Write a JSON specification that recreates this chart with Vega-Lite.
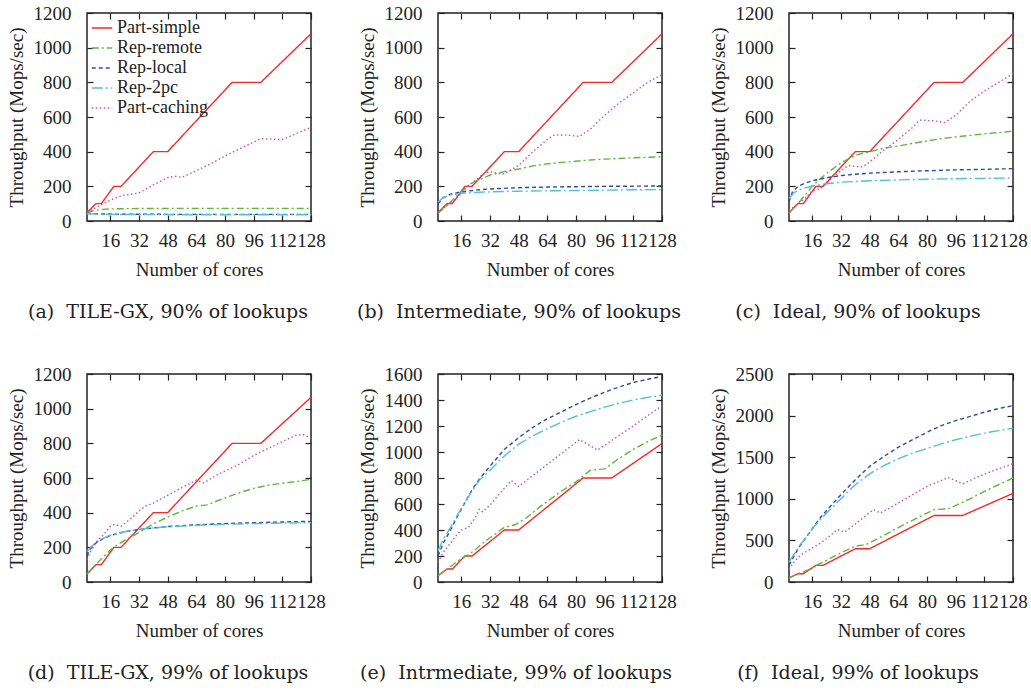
{
"$schema":"https://vega.github.io/schema/vega-lite/v6.json",
"background":"white",
"padding":{"left":6,"top":3,"right":5,"bottom":5},
"datasets":{"d":[
{"p":"a","s":"Part-simple","x":3,"y":48},{"p":"a","s":"Part-simple","x":8,"y":100},{"p":"a","s":"Part-simple","x":11,"y":100},{"p":"a","s":"Part-simple","x":18,"y":200},{"p":"a","s":"Part-simple","x":22,"y":200},{"p":"a","s":"Part-simple","x":40,"y":400},{"p":"a","s":"Part-simple","x":48,"y":400},{"p":"a","s":"Part-simple","x":84,"y":800},{"p":"a","s":"Part-simple","x":100,"y":800},{"p":"a","s":"Part-simple","x":128,"y":1080},
{"p":"b","s":"Part-simple","x":3,"y":48},{"p":"b","s":"Part-simple","x":8,"y":100},{"p":"b","s":"Part-simple","x":11,"y":100},{"p":"b","s":"Part-simple","x":18,"y":200},{"p":"b","s":"Part-simple","x":22,"y":200},{"p":"b","s":"Part-simple","x":40,"y":400},{"p":"b","s":"Part-simple","x":48,"y":400},{"p":"b","s":"Part-simple","x":84,"y":800},{"p":"b","s":"Part-simple","x":100,"y":800},{"p":"b","s":"Part-simple","x":128,"y":1080},
{"p":"c","s":"Part-simple","x":3,"y":48},{"p":"c","s":"Part-simple","x":8,"y":100},{"p":"c","s":"Part-simple","x":11,"y":100},{"p":"c","s":"Part-simple","x":18,"y":200},{"p":"c","s":"Part-simple","x":22,"y":200},{"p":"c","s":"Part-simple","x":40,"y":400},{"p":"c","s":"Part-simple","x":48,"y":400},{"p":"c","s":"Part-simple","x":84,"y":800},{"p":"c","s":"Part-simple","x":100,"y":800},{"p":"c","s":"Part-simple","x":128,"y":1080},
{"p":"d","s":"Part-simple","x":3,"y":48},{"p":"d","s":"Part-simple","x":8,"y":100},{"p":"d","s":"Part-simple","x":11,"y":100},{"p":"d","s":"Part-simple","x":18,"y":200},{"p":"d","s":"Part-simple","x":22,"y":200},{"p":"d","s":"Part-simple","x":40,"y":400},{"p":"d","s":"Part-simple","x":48,"y":400},{"p":"d","s":"Part-simple","x":84,"y":800},{"p":"d","s":"Part-simple","x":100,"y":800},{"p":"d","s":"Part-simple","x":128,"y":1065},
{"p":"e","s":"Part-simple","x":3,"y":48},{"p":"e","s":"Part-simple","x":8,"y":100},{"p":"e","s":"Part-simple","x":11,"y":100},{"p":"e","s":"Part-simple","x":18,"y":200},{"p":"e","s":"Part-simple","x":22,"y":200},{"p":"e","s":"Part-simple","x":40,"y":400},{"p":"e","s":"Part-simple","x":48,"y":400},{"p":"e","s":"Part-simple","x":84,"y":800},{"p":"e","s":"Part-simple","x":100,"y":800},{"p":"e","s":"Part-simple","x":128,"y":1065},
{"p":"f","s":"Part-simple","x":3,"y":48},{"p":"f","s":"Part-simple","x":8,"y":100},{"p":"f","s":"Part-simple","x":11,"y":100},{"p":"f","s":"Part-simple","x":18,"y":200},{"p":"f","s":"Part-simple","x":22,"y":200},{"p":"f","s":"Part-simple","x":40,"y":400},{"p":"f","s":"Part-simple","x":48,"y":400},{"p":"f","s":"Part-simple","x":84,"y":800},{"p":"f","s":"Part-simple","x":100,"y":800},{"p":"f","s":"Part-simple","x":128,"y":1065},

{"p":"a","s":"Rep-remote","x":3,"y":50},{"p":"a","s":"Rep-remote","x":8,"y":62},{"p":"a","s":"Rep-remote","x":12,"y":67},{"p":"a","s":"Rep-remote","x":16,"y":70},{"p":"a","s":"Rep-remote","x":32,"y":72},{"p":"a","s":"Rep-remote","x":64,"y":73},{"p":"a","s":"Rep-remote","x":96,"y":73},{"p":"a","s":"Rep-remote","x":128,"y":73},
{"p":"a","s":"Rep-local","x":3,"y":45},{"p":"a","s":"Rep-local","x":8,"y":42},{"p":"a","s":"Rep-local","x":16,"y":40},{"p":"a","s":"Rep-local","x":32,"y":39},{"p":"a","s":"Rep-local","x":64,"y":38},{"p":"a","s":"Rep-local","x":128,"y":38},
{"p":"a","s":"Rep-2pc","x":3,"y":42},{"p":"a","s":"Rep-2pc","x":8,"y":40},{"p":"a","s":"Rep-2pc","x":16,"y":38},{"p":"a","s":"Rep-2pc","x":32,"y":37},{"p":"a","s":"Rep-2pc","x":64,"y":36},{"p":"a","s":"Rep-2pc","x":128,"y":36},
{"p":"a","s":"Part-caching","x":3,"y":50},{"p":"a","s":"Part-caching","x":8,"y":78},{"p":"a","s":"Part-caching","x":12,"y":100},{"p":"a","s":"Part-caching","x":16,"y":120},{"p":"a","s":"Part-caching","x":20,"y":138},{"p":"a","s":"Part-caching","x":24,"y":150},{"p":"a","s":"Part-caching","x":28,"y":155},{"p":"a","s":"Part-caching","x":32,"y":162},{"p":"a","s":"Part-caching","x":40,"y":208},{"p":"a","s":"Part-caching","x":48,"y":250},{"p":"a","s":"Part-caching","x":52,"y":258},{"p":"a","s":"Part-caching","x":56,"y":252},{"p":"a","s":"Part-caching","x":64,"y":290},{"p":"a","s":"Part-caching","x":72,"y":330},{"p":"a","s":"Part-caching","x":80,"y":375},{"p":"a","s":"Part-caching","x":88,"y":415},{"p":"a","s":"Part-caching","x":96,"y":455},{"p":"a","s":"Part-caching","x":100,"y":475},{"p":"a","s":"Part-caching","x":104,"y":473},{"p":"a","s":"Part-caching","x":112,"y":470},{"p":"a","s":"Part-caching","x":120,"y":505},{"p":"a","s":"Part-caching","x":128,"y":540},

{"p":"b","s":"Rep-remote","x":3,"y":45},{"p":"b","s":"Rep-remote","x":8,"y":90},{"p":"b","s":"Rep-remote","x":12,"y":130},{"p":"b","s":"Rep-remote","x":16,"y":170},{"p":"b","s":"Rep-remote","x":20,"y":205},{"p":"b","s":"Rep-remote","x":24,"y":230},{"p":"b","s":"Rep-remote","x":32,"y":265},{"p":"b","s":"Rep-remote","x":40,"y":285},{"p":"b","s":"Rep-remote","x":48,"y":300},{"p":"b","s":"Rep-remote","x":56,"y":318},{"p":"b","s":"Rep-remote","x":64,"y":330},{"p":"b","s":"Rep-remote","x":72,"y":338},{"p":"b","s":"Rep-remote","x":80,"y":345},{"p":"b","s":"Rep-remote","x":88,"y":352},{"p":"b","s":"Rep-remote","x":96,"y":357},{"p":"b","s":"Rep-remote","x":104,"y":361},{"p":"b","s":"Rep-remote","x":112,"y":365},{"p":"b","s":"Rep-remote","x":120,"y":368},{"p":"b","s":"Rep-remote","x":128,"y":370},
{"p":"b","s":"Rep-local","x":3,"y":100},{"p":"b","s":"Rep-local","x":6,"y":135},{"p":"b","s":"Rep-local","x":10,"y":155},{"p":"b","s":"Rep-local","x":16,"y":168},{"p":"b","s":"Rep-local","x":24,"y":178},{"p":"b","s":"Rep-local","x":32,"y":185},{"p":"b","s":"Rep-local","x":48,"y":192},{"p":"b","s":"Rep-local","x":64,"y":196},{"p":"b","s":"Rep-local","x":80,"y":198},{"p":"b","s":"Rep-local","x":96,"y":200},{"p":"b","s":"Rep-local","x":112,"y":201},{"p":"b","s":"Rep-local","x":128,"y":202},
{"p":"b","s":"Rep-2pc","x":3,"y":110},{"p":"b","s":"Rep-2pc","x":6,"y":135},{"p":"b","s":"Rep-2pc","x":10,"y":150},{"p":"b","s":"Rep-2pc","x":16,"y":160},{"p":"b","s":"Rep-2pc","x":24,"y":165},{"p":"b","s":"Rep-2pc","x":32,"y":168},{"p":"b","s":"Rep-2pc","x":48,"y":172},{"p":"b","s":"Rep-2pc","x":64,"y":174},{"p":"b","s":"Rep-2pc","x":80,"y":176},{"p":"b","s":"Rep-2pc","x":96,"y":178},{"p":"b","s":"Rep-2pc","x":112,"y":180},{"p":"b","s":"Rep-2pc","x":128,"y":181},
{"p":"b","s":"Part-caching","x":3,"y":45},{"p":"b","s":"Part-caching","x":8,"y":90},{"p":"b","s":"Part-caching","x":12,"y":120},{"p":"b","s":"Part-caching","x":16,"y":160},{"p":"b","s":"Part-caching","x":20,"y":205},{"p":"b","s":"Part-caching","x":24,"y":235},{"p":"b","s":"Part-caching","x":28,"y":270},{"p":"b","s":"Part-caching","x":32,"y":285},{"p":"b","s":"Part-caching","x":36,"y":275},{"p":"b","s":"Part-caching","x":40,"y":272},{"p":"b","s":"Part-caching","x":48,"y":320},{"p":"b","s":"Part-caching","x":56,"y":400},{"p":"b","s":"Part-caching","x":64,"y":470},{"p":"b","s":"Part-caching","x":68,"y":497},{"p":"b","s":"Part-caching","x":76,"y":495},{"p":"b","s":"Part-caching","x":82,"y":488},{"p":"b","s":"Part-caching","x":88,"y":530},{"p":"b","s":"Part-caching","x":96,"y":610},{"p":"b","s":"Part-caching","x":104,"y":680},{"p":"b","s":"Part-caching","x":112,"y":740},{"p":"b","s":"Part-caching","x":120,"y":800},{"p":"b","s":"Part-caching","x":128,"y":845},

{"p":"c","s":"Rep-remote","x":3,"y":45},{"p":"c","s":"Rep-remote","x":8,"y":100},{"p":"c","s":"Rep-remote","x":12,"y":150},{"p":"c","s":"Rep-remote","x":16,"y":200},{"p":"c","s":"Rep-remote","x":20,"y":240},{"p":"c","s":"Rep-remote","x":24,"y":275},{"p":"c","s":"Rep-remote","x":32,"y":335},{"p":"c","s":"Rep-remote","x":40,"y":380},{"p":"c","s":"Rep-remote","x":48,"y":400},{"p":"c","s":"Rep-remote","x":56,"y":420},{"p":"c","s":"Rep-remote","x":64,"y":433},{"p":"c","s":"Rep-remote","x":72,"y":448},{"p":"c","s":"Rep-remote","x":80,"y":462},{"p":"c","s":"Rep-remote","x":88,"y":475},{"p":"c","s":"Rep-remote","x":96,"y":485},{"p":"c","s":"Rep-remote","x":104,"y":494},{"p":"c","s":"Rep-remote","x":112,"y":503},{"p":"c","s":"Rep-remote","x":120,"y":510},{"p":"c","s":"Rep-remote","x":128,"y":518},
{"p":"c","s":"Rep-local","x":3,"y":110},{"p":"c","s":"Rep-local","x":5,"y":170},{"p":"c","s":"Rep-local","x":8,"y":200},{"p":"c","s":"Rep-local","x":12,"y":218},{"p":"c","s":"Rep-local","x":16,"y":232},{"p":"c","s":"Rep-local","x":24,"y":250},{"p":"c","s":"Rep-local","x":32,"y":262},{"p":"c","s":"Rep-local","x":40,"y":270},{"p":"c","s":"Rep-local","x":48,"y":276},{"p":"c","s":"Rep-local","x":64,"y":284},{"p":"c","s":"Rep-local","x":80,"y":290},{"p":"c","s":"Rep-local","x":96,"y":295},{"p":"c","s":"Rep-local","x":112,"y":298},{"p":"c","s":"Rep-local","x":128,"y":302},
{"p":"c","s":"Rep-2pc","x":3,"y":130},{"p":"c","s":"Rep-2pc","x":6,"y":165},{"p":"c","s":"Rep-2pc","x":10,"y":185},{"p":"c","s":"Rep-2pc","x":16,"y":202},{"p":"c","s":"Rep-2pc","x":24,"y":215},{"p":"c","s":"Rep-2pc","x":32,"y":224},{"p":"c","s":"Rep-2pc","x":48,"y":232},{"p":"c","s":"Rep-2pc","x":64,"y":237},{"p":"c","s":"Rep-2pc","x":80,"y":241},{"p":"c","s":"Rep-2pc","x":96,"y":244},{"p":"c","s":"Rep-2pc","x":112,"y":246},{"p":"c","s":"Rep-2pc","x":128,"y":248},
{"p":"c","s":"Part-caching","x":3,"y":60},{"p":"c","s":"Part-caching","x":8,"y":100},{"p":"c","s":"Part-caching","x":12,"y":130},{"p":"c","s":"Part-caching","x":16,"y":175},{"p":"c","s":"Part-caching","x":20,"y":185},{"p":"c","s":"Part-caching","x":24,"y":215},{"p":"c","s":"Part-caching","x":28,"y":260},{"p":"c","s":"Part-caching","x":32,"y":290},{"p":"c","s":"Part-caching","x":36,"y":320},{"p":"c","s":"Part-caching","x":40,"y":315},{"p":"c","s":"Part-caching","x":44,"y":312},{"p":"c","s":"Part-caching","x":48,"y":340},{"p":"c","s":"Part-caching","x":56,"y":410},{"p":"c","s":"Part-caching","x":64,"y":470},{"p":"c","s":"Part-caching","x":72,"y":540},{"p":"c","s":"Part-caching","x":76,"y":582},{"p":"c","s":"Part-caching","x":84,"y":578},{"p":"c","s":"Part-caching","x":90,"y":568},{"p":"c","s":"Part-caching","x":96,"y":610},{"p":"c","s":"Part-caching","x":104,"y":690},{"p":"c","s":"Part-caching","x":112,"y":750},{"p":"c","s":"Part-caching","x":120,"y":800},{"p":"c","s":"Part-caching","x":128,"y":850},

{"p":"d","s":"Rep-remote","x":3,"y":45},{"p":"d","s":"Rep-remote","x":8,"y":100},{"p":"d","s":"Rep-remote","x":12,"y":145},{"p":"d","s":"Rep-remote","x":16,"y":185},{"p":"d","s":"Rep-remote","x":20,"y":215},{"p":"d","s":"Rep-remote","x":24,"y":240},{"p":"d","s":"Rep-remote","x":32,"y":285},{"p":"d","s":"Rep-remote","x":40,"y":335},{"p":"d","s":"Rep-remote","x":48,"y":375},{"p":"d","s":"Rep-remote","x":56,"y":410},{"p":"d","s":"Rep-remote","x":64,"y":438},{"p":"d","s":"Rep-remote","x":70,"y":445},{"p":"d","s":"Rep-remote","x":80,"y":485},{"p":"d","s":"Rep-remote","x":88,"y":515},{"p":"d","s":"Rep-remote","x":96,"y":540},{"p":"d","s":"Rep-remote","x":104,"y":558},{"p":"d","s":"Rep-remote","x":112,"y":570},{"p":"d","s":"Rep-remote","x":120,"y":580},{"p":"d","s":"Rep-remote","x":128,"y":592},
{"p":"d","s":"Rep-local","x":3,"y":150},{"p":"d","s":"Rep-local","x":5,"y":195},{"p":"d","s":"Rep-local","x":8,"y":225},{"p":"d","s":"Rep-local","x":12,"y":250},{"p":"d","s":"Rep-local","x":16,"y":268},{"p":"d","s":"Rep-local","x":24,"y":290},{"p":"d","s":"Rep-local","x":32,"y":303},{"p":"d","s":"Rep-local","x":40,"y":312},{"p":"d","s":"Rep-local","x":48,"y":320},{"p":"d","s":"Rep-local","x":64,"y":330},{"p":"d","s":"Rep-local","x":80,"y":337},{"p":"d","s":"Rep-local","x":96,"y":342},{"p":"d","s":"Rep-local","x":112,"y":346},{"p":"d","s":"Rep-local","x":128,"y":350},
{"p":"d","s":"Rep-2pc","x":3,"y":175},{"p":"d","s":"Rep-2pc","x":5,"y":200},{"p":"d","s":"Rep-2pc","x":8,"y":228},{"p":"d","s":"Rep-2pc","x":12,"y":252},{"p":"d","s":"Rep-2pc","x":16,"y":270},{"p":"d","s":"Rep-2pc","x":24,"y":290},{"p":"d","s":"Rep-2pc","x":32,"y":303},{"p":"d","s":"Rep-2pc","x":40,"y":312},{"p":"d","s":"Rep-2pc","x":48,"y":318},{"p":"d","s":"Rep-2pc","x":64,"y":327},{"p":"d","s":"Rep-2pc","x":80,"y":333},{"p":"d","s":"Rep-2pc","x":96,"y":337},{"p":"d","s":"Rep-2pc","x":112,"y":340},{"p":"d","s":"Rep-2pc","x":128,"y":342},
{"p":"d","s":"Part-caching","x":3,"y":130},{"p":"d","s":"Part-caching","x":6,"y":200},{"p":"d","s":"Part-caching","x":8,"y":230},{"p":"d","s":"Part-caching","x":12,"y":270},{"p":"d","s":"Part-caching","x":16,"y":320},{"p":"d","s":"Part-caching","x":18,"y":332},{"p":"d","s":"Part-caching","x":22,"y":322},{"p":"d","s":"Part-caching","x":28,"y":370},{"p":"d","s":"Part-caching","x":32,"y":410},{"p":"d","s":"Part-caching","x":36,"y":440},{"p":"d","s":"Part-caching","x":40,"y":455},{"p":"d","s":"Part-caching","x":48,"y":500},{"p":"d","s":"Part-caching","x":56,"y":545},{"p":"d","s":"Part-caching","x":64,"y":588},{"p":"d","s":"Part-caching","x":68,"y":572},{"p":"d","s":"Part-caching","x":76,"y":620},{"p":"d","s":"Part-caching","x":88,"y":680},{"p":"d","s":"Part-caching","x":96,"y":730},{"p":"d","s":"Part-caching","x":104,"y":770},{"p":"d","s":"Part-caching","x":112,"y":810},{"p":"d","s":"Part-caching","x":120,"y":848},{"p":"d","s":"Part-caching","x":124,"y":850},{"p":"d","s":"Part-caching","x":128,"y":830},

{"p":"e","s":"Rep-remote","x":3,"y":50},{"p":"e","s":"Rep-remote","x":8,"y":100},{"p":"e","s":"Rep-remote","x":12,"y":140},{"p":"e","s":"Rep-remote","x":16,"y":180},{"p":"e","s":"Rep-remote","x":20,"y":210},{"p":"e","s":"Rep-remote","x":24,"y":250},{"p":"e","s":"Rep-remote","x":28,"y":300},{"p":"e","s":"Rep-remote","x":32,"y":340},{"p":"e","s":"Rep-remote","x":40,"y":420},{"p":"e","s":"Rep-remote","x":46,"y":440},{"p":"e","s":"Rep-remote","x":52,"y":490},{"p":"e","s":"Rep-remote","x":60,"y":580},{"p":"e","s":"Rep-remote","x":72,"y":700},{"p":"e","s":"Rep-remote","x":80,"y":770},{"p":"e","s":"Rep-remote","x":88,"y":860},{"p":"e","s":"Rep-remote","x":96,"y":870},{"p":"e","s":"Rep-remote","x":104,"y":950},{"p":"e","s":"Rep-remote","x":112,"y":1020},{"p":"e","s":"Rep-remote","x":120,"y":1080},{"p":"e","s":"Rep-remote","x":128,"y":1130},
{"p":"e","s":"Rep-local","x":3,"y":200},{"p":"e","s":"Rep-local","x":6,"y":300},{"p":"e","s":"Rep-local","x":10,"y":400},{"p":"e","s":"Rep-local","x":14,"y":510},{"p":"e","s":"Rep-local","x":18,"y":610},{"p":"e","s":"Rep-local","x":22,"y":710},{"p":"e","s":"Rep-local","x":26,"y":790},{"p":"e","s":"Rep-local","x":32,"y":890},{"p":"e","s":"Rep-local","x":40,"y":1020},{"p":"e","s":"Rep-local","x":48,"y":1110},{"p":"e","s":"Rep-local","x":56,"y":1190},{"p":"e","s":"Rep-local","x":64,"y":1255},{"p":"e","s":"Rep-local","x":72,"y":1310},{"p":"e","s":"Rep-local","x":80,"y":1365},{"p":"e","s":"Rep-local","x":88,"y":1415},{"p":"e","s":"Rep-local","x":96,"y":1460},{"p":"e","s":"Rep-local","x":104,"y":1500},{"p":"e","s":"Rep-local","x":112,"y":1535},{"p":"e","s":"Rep-local","x":120,"y":1560},{"p":"e","s":"Rep-local","x":128,"y":1580},
{"p":"e","s":"Rep-2pc","x":3,"y":240},{"p":"e","s":"Rep-2pc","x":6,"y":330},{"p":"e","s":"Rep-2pc","x":10,"y":420},{"p":"e","s":"Rep-2pc","x":14,"y":520},{"p":"e","s":"Rep-2pc","x":18,"y":610},{"p":"e","s":"Rep-2pc","x":22,"y":700},{"p":"e","s":"Rep-2pc","x":26,"y":780},{"p":"e","s":"Rep-2pc","x":32,"y":860},{"p":"e","s":"Rep-2pc","x":40,"y":970},{"p":"e","s":"Rep-2pc","x":48,"y":1060},{"p":"e","s":"Rep-2pc","x":56,"y":1125},{"p":"e","s":"Rep-2pc","x":64,"y":1180},{"p":"e","s":"Rep-2pc","x":72,"y":1230},{"p":"e","s":"Rep-2pc","x":80,"y":1275},{"p":"e","s":"Rep-2pc","x":88,"y":1310},{"p":"e","s":"Rep-2pc","x":96,"y":1345},{"p":"e","s":"Rep-2pc","x":104,"y":1375},{"p":"e","s":"Rep-2pc","x":112,"y":1400},{"p":"e","s":"Rep-2pc","x":120,"y":1420},{"p":"e","s":"Rep-2pc","x":128,"y":1438},
{"p":"e","s":"Part-caching","x":3,"y":150},{"p":"e","s":"Part-caching","x":6,"y":230},{"p":"e","s":"Part-caching","x":10,"y":300},{"p":"e","s":"Part-caching","x":14,"y":370},{"p":"e","s":"Part-caching","x":16,"y":400},{"p":"e","s":"Part-caching","x":20,"y":420},{"p":"e","s":"Part-caching","x":24,"y":500},{"p":"e","s":"Part-caching","x":26,"y":560},{"p":"e","s":"Part-caching","x":28,"y":540},{"p":"e","s":"Part-caching","x":32,"y":590},{"p":"e","s":"Part-caching","x":38,"y":690},{"p":"e","s":"Part-caching","x":44,"y":780},{"p":"e","s":"Part-caching","x":48,"y":735},{"p":"e","s":"Part-caching","x":56,"y":820},{"p":"e","s":"Part-caching","x":64,"y":905},{"p":"e","s":"Part-caching","x":72,"y":990},{"p":"e","s":"Part-caching","x":82,"y":1095},{"p":"e","s":"Part-caching","x":92,"y":1015},{"p":"e","s":"Part-caching","x":100,"y":1090},{"p":"e","s":"Part-caching","x":112,"y":1200},{"p":"e","s":"Part-caching","x":120,"y":1280},{"p":"e","s":"Part-caching","x":128,"y":1355},

{"p":"f","s":"Rep-remote","x":3,"y":50},{"p":"f","s":"Rep-remote","x":8,"y":100},{"p":"f","s":"Rep-remote","x":12,"y":130},{"p":"f","s":"Rep-remote","x":16,"y":170},{"p":"f","s":"Rep-remote","x":20,"y":220},{"p":"f","s":"Rep-remote","x":24,"y":260},{"p":"f","s":"Rep-remote","x":30,"y":330},{"p":"f","s":"Rep-remote","x":40,"y":430},{"p":"f","s":"Rep-remote","x":46,"y":450},{"p":"f","s":"Rep-remote","x":56,"y":560},{"p":"f","s":"Rep-remote","x":68,"y":700},{"p":"f","s":"Rep-remote","x":84,"y":870},{"p":"f","s":"Rep-remote","x":92,"y":880},{"p":"f","s":"Rep-remote","x":104,"y":1000},{"p":"f","s":"Rep-remote","x":116,"y":1130},{"p":"f","s":"Rep-remote","x":128,"y":1250},
{"p":"f","s":"Rep-local","x":3,"y":200},{"p":"f","s":"Rep-local","x":6,"y":320},{"p":"f","s":"Rep-local","x":9,"y":430},{"p":"f","s":"Rep-local","x":12,"y":520},{"p":"f","s":"Rep-local","x":16,"y":640},{"p":"f","s":"Rep-local","x":20,"y":760},{"p":"f","s":"Rep-local","x":24,"y":860},{"p":"f","s":"Rep-local","x":32,"y":1050},{"p":"f","s":"Rep-local","x":40,"y":1230},{"p":"f","s":"Rep-local","x":48,"y":1390},{"p":"f","s":"Rep-local","x":56,"y":1510},{"p":"f","s":"Rep-local","x":64,"y":1620},{"p":"f","s":"Rep-local","x":72,"y":1710},{"p":"f","s":"Rep-local","x":80,"y":1800},{"p":"f","s":"Rep-local","x":88,"y":1880},{"p":"f","s":"Rep-local","x":96,"y":1940},{"p":"f","s":"Rep-local","x":104,"y":1990},{"p":"f","s":"Rep-local","x":112,"y":2040},{"p":"f","s":"Rep-local","x":120,"y":2085},{"p":"f","s":"Rep-local","x":128,"y":2120},
{"p":"f","s":"Rep-2pc","x":3,"y":240},{"p":"f","s":"Rep-2pc","x":6,"y":340},{"p":"f","s":"Rep-2pc","x":9,"y":440},{"p":"f","s":"Rep-2pc","x":12,"y":520},{"p":"f","s":"Rep-2pc","x":16,"y":640},{"p":"f","s":"Rep-2pc","x":20,"y":740},{"p":"f","s":"Rep-2pc","x":24,"y":830},{"p":"f","s":"Rep-2pc","x":32,"y":1000},{"p":"f","s":"Rep-2pc","x":40,"y":1170},{"p":"f","s":"Rep-2pc","x":48,"y":1300},{"p":"f","s":"Rep-2pc","x":56,"y":1400},{"p":"f","s":"Rep-2pc","x":64,"y":1480},{"p":"f","s":"Rep-2pc","x":72,"y":1550},{"p":"f","s":"Rep-2pc","x":80,"y":1605},{"p":"f","s":"Rep-2pc","x":88,"y":1660},{"p":"f","s":"Rep-2pc","x":96,"y":1710},{"p":"f","s":"Rep-2pc","x":104,"y":1750},{"p":"f","s":"Rep-2pc","x":112,"y":1790},{"p":"f","s":"Rep-2pc","x":120,"y":1820},{"p":"f","s":"Rep-2pc","x":128,"y":1848},
{"p":"f","s":"Part-caching","x":3,"y":150},{"p":"f","s":"Part-caching","x":6,"y":250},{"p":"f","s":"Part-caching","x":10,"y":330},{"p":"f","s":"Part-caching","x":16,"y":410},{"p":"f","s":"Part-caching","x":20,"y":460},{"p":"f","s":"Part-caching","x":24,"y":520},{"p":"f","s":"Part-caching","x":30,"y":630},{"p":"f","s":"Part-caching","x":34,"y":600},{"p":"f","s":"Part-caching","x":42,"y":730},{"p":"f","s":"Part-caching","x":50,"y":870},{"p":"f","s":"Part-caching","x":54,"y":830},{"p":"f","s":"Part-caching","x":60,"y":900},{"p":"f","s":"Part-caching","x":68,"y":1000},{"p":"f","s":"Part-caching","x":80,"y":1150},{"p":"f","s":"Part-caching","x":92,"y":1255},{"p":"f","s":"Part-caching","x":100,"y":1180},{"p":"f","s":"Part-caching","x":108,"y":1260},{"p":"f","s":"Part-caching","x":116,"y":1330},{"p":"f","s":"Part-caching","x":128,"y":1420}
]},
"data":{"name":"d"},
"columns":3,
"bounds":"flush",
"spacing":{"row":153,"column":127},
"resolve":{"scale":{"color":"independent","strokeDash":"independent"},"legend":{"color":"independent","strokeDash":"independent"}},
"concat":[
{"title":{"text":"(a)\u00a0 TILE-GX, 90% of lookups","dx":-31},"width":224,"height":208,"transform":[{"filter":"datum.p==='a'"}],
 "layer":[
  {"mark":"line","encoding":{
   "x":{"field":"x","type":"quantitative","scale":{"domain":[3,128],"nice":false,"zero":false},"axis":{"values":[16,32,48,64,80,96,112,128],"title":"Number of cores"}},
   "y":{"field":"y","type":"quantitative","scale":{"domain":[0,1200],"nice":false},"axis":{"values":[0,200,400,600,800,1000,1200],"format":"d","title":"Throughput (Mops/sec)"}},
   "color":{"field":"s","type":"nominal","scale":{"domain":["Part-simple","Rep-remote","Rep-local","Rep-2pc","Part-caching"],"range":["#f22a2a","#5cb83c","#2e4c9e","#4fc0dc","#c34fbf"]},"legend":{"title":null,"orient":"top-left","offset":4,"symbolSize":420,"symbolStrokeWidth":1.5,"labelFontSize":18,"rowPadding":0}},
   "strokeDash":{"field":"s","type":"nominal","scale":{"domain":["Part-simple","Rep-remote","Rep-local","Rep-2pc","Part-caching"],"range":[[1,0],[7,3,2,3],[4,3],[11,3,2,3],[1.5,2.5]]},"legend":{"title":null,"orient":"top-left","offset":4,"symbolSize":420,"symbolStrokeWidth":1.5,"labelFontSize":18,"rowPadding":0}}}},
  {"mark":{"type":"line","opacity":0},"encoding":{
   "x":{"field":"x","type":"quantitative","axis":{"orient":"top","values":[16,32,48,64,80,96,112,128],"labels":false,"title":null}},
   "y":{"field":"y","type":"quantitative","axis":{"orient":"right","values":[0,200,400,600,800,1000,1200],"labels":false,"title":null}},
   "detail":{"field":"s"}}}],
 "resolve":{"axis":{"x":"independent","y":"independent"}}},
{"title":{"text":"(b)\u00a0 Intermediate, 90% of lookups","dx":-31},"width":224,"height":208,"transform":[{"filter":"datum.p==='b'"}],
 "layer":[
  {"mark":"line","encoding":{
   "x":{"field":"x","type":"quantitative","scale":{"domain":[3,128],"nice":false,"zero":false},"axis":{"values":[16,32,48,64,80,96,112,128],"title":"Number of cores"}},
   "y":{"field":"y","type":"quantitative","scale":{"domain":[0,1200],"nice":false},"axis":{"values":[0,200,400,600,800,1000,1200],"format":"d","title":"Throughput (Mops/sec)"}},
   "color":{"field":"s","type":"nominal","scale":{"domain":["Part-simple","Rep-remote","Rep-local","Rep-2pc","Part-caching"],"range":["#f22a2a","#5cb83c","#2e4c9e","#4fc0dc","#c34fbf"]},"legend":null},
   "strokeDash":{"field":"s","type":"nominal","scale":{"domain":["Part-simple","Rep-remote","Rep-local","Rep-2pc","Part-caching"],"range":[[1,0],[7,3,2,3],[4,3],[11,3,2,3],[1.5,2.5]]},"legend":null}}},
  {"mark":{"type":"line","opacity":0},"encoding":{
   "x":{"field":"x","type":"quantitative","axis":{"orient":"top","values":[16,32,48,64,80,96,112,128],"labels":false,"title":null}},
   "y":{"field":"y","type":"quantitative","axis":{"orient":"right","values":[0,200,400,600,800,1000,1200],"labels":false,"title":null}},
   "detail":{"field":"s"}}}],
 "resolve":{"axis":{"x":"independent","y":"independent"}}},
{"title":{"text":"(c)\u00a0 Ideal, 90% of lookups","dx":-43},"width":224,"height":208,"transform":[{"filter":"datum.p==='c'"}],
 "layer":[
  {"mark":"line","encoding":{
   "x":{"field":"x","type":"quantitative","scale":{"domain":[3,128],"nice":false,"zero":false},"axis":{"values":[16,32,48,64,80,96,112,128],"title":"Number of cores"}},
   "y":{"field":"y","type":"quantitative","scale":{"domain":[0,1200],"nice":false},"axis":{"values":[0,200,400,600,800,1000,1200],"format":"d","title":"Throughput (Mops/sec)"}},
   "color":{"field":"s","type":"nominal","scale":{"domain":["Part-simple","Rep-remote","Rep-local","Rep-2pc","Part-caching"],"range":["#f22a2a","#5cb83c","#2e4c9e","#4fc0dc","#c34fbf"]},"legend":null},
   "strokeDash":{"field":"s","type":"nominal","scale":{"domain":["Part-simple","Rep-remote","Rep-local","Rep-2pc","Part-caching"],"range":[[1,0],[7,3,2,3],[4,3],[11,3,2,3],[1.5,2.5]]},"legend":null}}},
  {"mark":{"type":"line","opacity":0},"encoding":{
   "x":{"field":"x","type":"quantitative","axis":{"orient":"top","values":[16,32,48,64,80,96,112,128],"labels":false,"title":null}},
   "y":{"field":"y","type":"quantitative","axis":{"orient":"right","values":[0,200,400,600,800,1000,1200],"labels":false,"title":null}},
   "detail":{"field":"s"}}}],
 "resolve":{"axis":{"x":"independent","y":"independent"}}},
{"title":{"text":"(d)\u00a0 TILE-GX, 99% of lookups","dx":-31},"width":224,"height":208,"transform":[{"filter":"datum.p==='d'"}],
 "layer":[
  {"mark":"line","encoding":{
   "x":{"field":"x","type":"quantitative","scale":{"domain":[3,128],"nice":false,"zero":false},"axis":{"values":[16,32,48,64,80,96,112,128],"title":"Number of cores"}},
   "y":{"field":"y","type":"quantitative","scale":{"domain":[0,1200],"nice":false},"axis":{"values":[0,200,400,600,800,1000,1200],"format":"d","title":"Throughput (Mops/sec)"}},
   "color":{"field":"s","type":"nominal","scale":{"domain":["Part-simple","Rep-remote","Rep-local","Rep-2pc","Part-caching"],"range":["#f22a2a","#5cb83c","#2e4c9e","#4fc0dc","#c34fbf"]},"legend":null},
   "strokeDash":{"field":"s","type":"nominal","scale":{"domain":["Part-simple","Rep-remote","Rep-local","Rep-2pc","Part-caching"],"range":[[1,0],[7,3,2,3],[4,3],[11,3,2,3],[1.5,2.5]]},"legend":null}}},
  {"mark":{"type":"line","opacity":0},"encoding":{
   "x":{"field":"x","type":"quantitative","axis":{"orient":"top","values":[16,32,48,64,80,96,112,128],"labels":false,"title":null}},
   "y":{"field":"y","type":"quantitative","axis":{"orient":"right","values":[0,200,400,600,800,1000,1200],"labels":false,"title":null}},
   "detail":{"field":"s"}}}],
 "resolve":{"axis":{"x":"independent","y":"independent"}}},
{"title":{"text":"(e)\u00a0 Intrmediate, 99% of lookups","dx":-34},"width":224,"height":208,"transform":[{"filter":"datum.p==='e'"}],
 "layer":[
  {"mark":"line","encoding":{
   "x":{"field":"x","type":"quantitative","scale":{"domain":[3,128],"nice":false,"zero":false},"axis":{"values":[16,32,48,64,80,96,112,128],"title":"Number of cores"}},
   "y":{"field":"y","type":"quantitative","scale":{"domain":[0,1600],"nice":false},"axis":{"values":[0,200,400,600,800,1000,1200,1400,1600],"format":"d","title":"Throughput (Mops/sec)"}},
   "color":{"field":"s","type":"nominal","scale":{"domain":["Part-simple","Rep-remote","Rep-local","Rep-2pc","Part-caching"],"range":["#f22a2a","#5cb83c","#2e4c9e","#4fc0dc","#c34fbf"]},"legend":null},
   "strokeDash":{"field":"s","type":"nominal","scale":{"domain":["Part-simple","Rep-remote","Rep-local","Rep-2pc","Part-caching"],"range":[[1,0],[7,3,2,3],[4,3],[11,3,2,3],[1.5,2.5]]},"legend":null}}},
  {"mark":{"type":"line","opacity":0},"encoding":{
   "x":{"field":"x","type":"quantitative","axis":{"orient":"top","values":[16,32,48,64,80,96,112,128],"labels":false,"title":null}},
   "y":{"field":"y","type":"quantitative","axis":{"orient":"right","values":[0,200,400,600,800,1000,1200,1400,1600],"labels":false,"title":null}},
   "detail":{"field":"s"}}}],
 "resolve":{"axis":{"x":"independent","y":"independent"}}},
{"title":{"text":"(f)\u00a0 Ideal, 99% of lookups","dx":-43},"width":224,"height":208,"transform":[{"filter":"datum.p==='f'"}],
 "layer":[
  {"mark":"line","encoding":{
   "x":{"field":"x","type":"quantitative","scale":{"domain":[3,128],"nice":false,"zero":false},"axis":{"values":[16,32,48,64,80,96,112,128],"title":"Number of cores"}},
   "y":{"field":"y","type":"quantitative","scale":{"domain":[0,2500],"nice":false},"axis":{"values":[0,500,1000,1500,2000,2500],"format":"d","title":"Throughput (Mops/sec)"}},
   "color":{"field":"s","type":"nominal","scale":{"domain":["Part-simple","Rep-remote","Rep-local","Rep-2pc","Part-caching"],"range":["#f22a2a","#5cb83c","#2e4c9e","#4fc0dc","#c34fbf"]},"legend":null},
   "strokeDash":{"field":"s","type":"nominal","scale":{"domain":["Part-simple","Rep-remote","Rep-local","Rep-2pc","Part-caching"],"range":[[1,0],[7,3,2,3],[4,3],[11,3,2,3],[1.5,2.5]]},"legend":null}}},
  {"mark":{"type":"line","opacity":0},"encoding":{
   "x":{"field":"x","type":"quantitative","axis":{"orient":"top","values":[16,32,48,64,80,96,112,128],"labels":false,"title":null}},
   "y":{"field":"y","type":"quantitative","axis":{"orient":"right","values":[0,500,1000,1500,2000,2500],"labels":false,"title":null}},
   "detail":{"field":"s"}}}],
 "resolve":{"axis":{"x":"independent","y":"independent"}}}
],
"config":{
 "view":{"stroke":"#222","strokeWidth":1.5},
 "line":{"strokeWidth":1.4},
 "axis":{"domain":false,"grid":false,"tickSize":-6,"tickColor":"#222","tickWidth":1.2,"labelFont":"Liberation Serif","labelFontSize":19,"labelColor":"#222","titleFont":"Liberation Serif","titleFontSize":19,"titleFontWeight":"normal","titleColor":"#222","labelFlush":false,"labelOverlap":false},
 "axisX":{"titlePadding":10,"labelPadding":16},
 "axisY":{"titlePadding":7,"labelPadding":22},
 "legend":{"labelFont":"Liberation Serif","labelColor":"#222"},
 "title":{"orient":"bottom","font":"DejaVu Serif","fontSize":19,"fontWeight":"normal","color":"#222","offset":24,"anchor":"middle"}
}
}
